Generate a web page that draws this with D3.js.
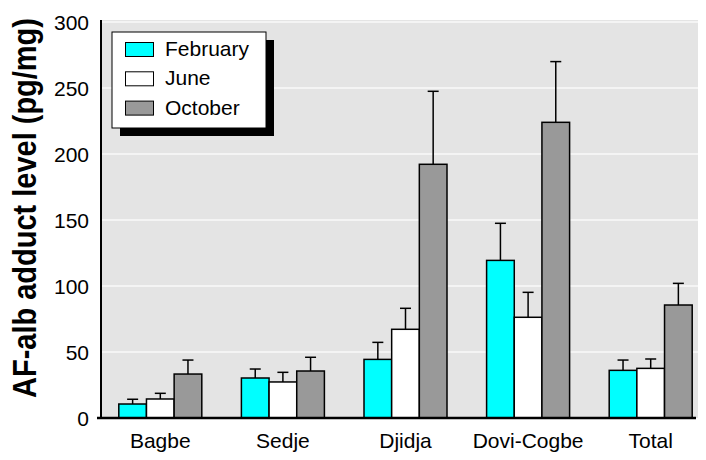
<!DOCTYPE html>
<html>
<head>
<meta charset="utf-8">
<script src="https://cdn.jsdelivr.net/npm/d3@7"></script>
<style>
    body { margin: 0; background: #fff; }
    svg { display: block; font-family: "Liberation Sans", Arial, sans-serif; }
</style>
</head>
<body>
<svg id="chart" width="706" height="460"></svg>
<script>
// villages on the x axis
const sites = ['Bagbe', 'Sedje', 'Djidja', 'Dovi-Cogbe', 'Total']
const months = ['February', 'June', 'October']

// mean adduct level per site, one array per month
const february = [10.6, 30.3, 44.4, 119.4, 36.1]
const june = [14.4, 27.3, 67.2, 76.3, 37.6]
const october = [33.3, 35.6, 192.2, 224.0, 85.6]

// top of the error bar (mean + sd)
const februaryErr = [14.2, 37.1, 57.3, 147.5, 43.9]
const juneErr = [18.7, 34.6, 83.1, 95.2, 44.7]
const octoberErr = [43.9, 46.0, 247.5, 270.0, 102.0]

const yTicks = [0, 50, 100, 150, 200, 250, 300]
const colors = ['#00ffff', '#ffffff', '#999999']

const svg = d3.select('#chart')

const plot = { left: 101, right: 698, top: 20, bottom: 418 }

const y = d3.scaleLinear().domain([0, 300]).range([plot.bottom, plot.top + 2])
const x = d3.scaleBand().domain(sites).range([99, 712])
const xm = d3.scaleBand().domain(months).range([0, 83])
const groupOffset = (x.bandwidth() - 83) / 2

// plot background
svg.append('rect')
    .attr('x', plot.left).attr('y', plot.top)
    .attr('width', plot.right - plot.left).attr('height', plot.bottom - plot.top)
    .attr('fill', '#e4e4e4')

// white grid lines
svg.append('g').selectAll('line').data(yTicks.slice(1)).enter().append('line')
    .attr('x1', plot.left).attr('x2', plot.right)
    .attr('y1', d => y(d)).attr('y2', d => y(d))
    .attr('stroke', '#fafafa').attr('stroke-width', 1.5)

// build rows: one entry per bar
const series = [february, june, october]
const errs = [februaryErr, juneErr, octoberErr]
const rows = []
sites.forEach((site, i) => {
    months.forEach((month, j) => {
        rows.push({ site, month, value: series[j][i], err: errs[j][i], color: colors[j] })
    })
})

const barX = d => x(d.site) + groupOffset + xm(d.month)

// error bars (upper only)
const errG = svg.append('g').attr('stroke', '#000').attr('stroke-width', 1.5)
errG.selectAll('line.v').data(rows).enter().append('line')
    .attr('class', 'v')
    .attr('x1', d => barX(d) + xm.bandwidth() / 2)
    .attr('x2', d => barX(d) + xm.bandwidth() / 2)
    .attr('y1', d => y(d.value)).attr('y2', d => y(d.err))
errG.selectAll('line.cap').data(rows).enter().append('line')
    .attr('class', 'cap')
    .attr('x1', d => barX(d) + xm.bandwidth() / 2 - 5.5)
    .attr('x2', d => barX(d) + xm.bandwidth() / 2 + 5.5)
    .attr('y1', d => y(d.err)).attr('y2', d => y(d.err))

// bars
svg.append('g').selectAll('rect').data(rows).enter().append('rect')
    .attr('x', d => barX(d))
    .attr('y', d => y(d.value))
    .attr('width', xm.bandwidth())
    .attr('height', d => y(0) - y(d.value))
    .attr('fill', d => d.color)
    .attr('stroke', '#000').attr('stroke-width', 1.5)

// axis lines
svg.append('line')
    .attr('x1', plot.left).attr('x2', plot.left)
    .attr('y1', plot.top).attr('y2', plot.bottom)
    .attr('stroke', '#000').attr('stroke-width', 2)
svg.append('line')
    .attr('x1', 97).attr('x2', 696)
    .attr('y1', plot.bottom).attr('y2', plot.bottom)
    .attr('stroke', '#000').attr('stroke-width', 2.5)

// y tick labels
svg.append('g').selectAll('text').data(yTicks).enter().append('text')
    .attr('x', 89).attr('y', d => y(d))
    .attr('dy', '0.36em')
    .attr('text-anchor', 'end')
    .attr('font-size', 21)
    .text(d => d)

// x labels
svg.append('g').selectAll('text').data(sites).enter().append('text')
    .attr('x', d => x(d) + x.bandwidth() / 2)
    .attr('y', 448)
    .attr('text-anchor', 'middle')
    .attr('font-size', 21)
    .text(d => d)

// y axis title, stretched a bit to look condensed like the original
svg.append('text')
    .attr('transform', 'translate(36,208) rotate(-90) scale(1,1.12)')
    .attr('text-anchor', 'middle')
    .attr('font-size', 29)
    .attr('font-weight', 'bold')
    .text('AF-alb adduct level (pg/mg)')

// legend with drop shadow
const legend = svg.append('g')
legend.append('rect')
    .attr('x', 120).attr('y', 40).attr('width', 154).attr('height', 96)
    .attr('fill', '#000')
legend.append('rect')
    .attr('x', 112).attr('y', 32).attr('width', 154).attr('height', 96)
    .attr('fill', '#fff').attr('stroke', '#000').attr('stroke-width', 1)

const items = legend.selectAll('g.item').data(months).enter().append('g')
    .attr('class', 'item')
    .attr('transform', (d, i) => `translate(0,${i * 29.3})`)
items.append('rect')
    .attr('x', 125.5).attr('y', 42.5).attr('width', 28).attr('height', 14)
    .attr('fill', (d, i) => colors[i])
    .attr('stroke', '#000').attr('stroke-width', 1)
items.append('text')
    .attr('x', 165).attr('y', 56)
    .attr('font-size', 21)
    .text(d => d)
</script>
</body>
</html>
